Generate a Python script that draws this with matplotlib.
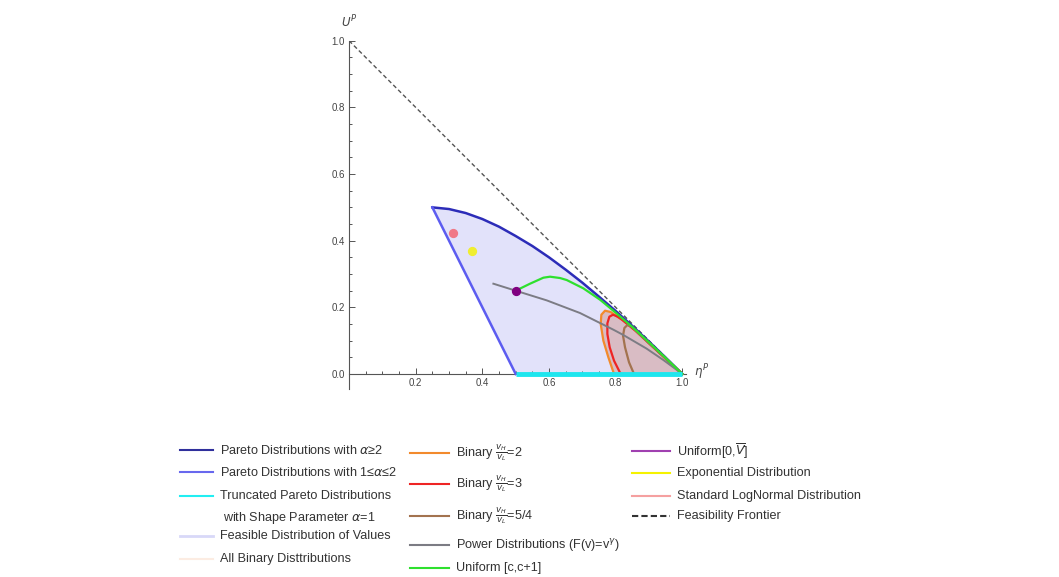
import matplotlib
matplotlib.use("Agg")
import matplotlib.pyplot as plt
from matplotlib.lines import Line2D
import numpy as np

plt.rcParams["font.family"] = ["Liberation Sans", "DejaVu Sans"]
plt.rcParams["mathtext.fontset"] = "dejavusans"

# Pareto alpha >= 2 (upper boundary of feasible region)
pareto_hi_x = [0.25, 0.30, 0.35, 0.40, 0.45, 0.50, 0.55, 0.60, 0.65, 0.70, 0.75, 0.80, 0.85, 0.90, 0.95, 1.00]
pareto_hi_y = [0.500, 0.495, 0.483, 0.465, 0.442, 0.414, 0.384, 0.350, 0.313, 0.274, 0.232, 0.189, 0.144, 0.097, 0.049, 0.0]

# Pareto 1 <= alpha <= 2 (left boundary)
pareto_lo_x = [0.25, 0.375, 0.50]
pareto_lo_y = [0.50, 0.25, 0.0]

# truncated Pareto, alpha = 1 (bottom boundary)
trunc_x = [0.50, 1.00]
trunc_y = [0.0, 0.0]

# binary distributions, vH/vL = 2, 3, 5/4
bin2_x = [0.795, 0.778, 0.763, 0.755, 0.757, 0.768, 0.785, 0.808, 0.82, 0.86, 0.90, 0.95, 1.00]
bin2_y = [0.0, 0.050, 0.100, 0.150, 0.178, 0.190, 0.186, 0.170, 0.163, 0.130, 0.093, 0.046, 0.0]
bin3_x = [0.815, 0.795, 0.782, 0.775, 0.775, 0.781, 0.792, 0.806, 0.82, 0.86, 0.90, 0.95, 1.00]
bin3_y = [0.0, 0.040, 0.080, 0.120, 0.152, 0.172, 0.178, 0.172, 0.162, 0.129, 0.092, 0.046, 0.0]
bin54_x = [0.855, 0.840, 0.828, 0.822, 0.826, 0.835, 0.848, 0.87, 0.90, 0.95, 1.00]
bin54_y = [0.0, 0.035, 0.080, 0.115, 0.138, 0.147, 0.142, 0.121, 0.092, 0.046, 0.0]

# power distributions F(v)=v^gamma
power_x = [0.433, 0.50, 0.593, 0.693, 0.793, 0.823, 0.893, 0.943, 1.00]
power_y = [0.271, 0.250, 0.221, 0.183, 0.133, 0.117, 0.076, 0.042, 0.0]

# uniform [c, c+1]
unif_x = [0.50, 0.543, 0.583, 0.603, 0.633, 0.653, 0.703, 0.753, 0.80, 0.85, 0.90, 0.95, 1.00]
unif_y = [0.250, 0.271, 0.289, 0.292, 0.288, 0.282, 0.257, 0.223, 0.184, 0.141, 0.095, 0.048, 0.0]

# single distributions (points)
uniform0_pt = (0.50, 0.25)
expo_pt = (0.368, 0.369)
lognorm_pt = (0.313, 0.422)

# feasibility frontier
frontier_x = [0.0, 1.0]
frontier_y = [1.0, 0.0]

fig = plt.figure(figsize=(10.59, 5.77), dpi=100)
ax = fig.add_axes([0.3296, 0.3258, 0.3179, 0.6036])
ax.set_xlim(0, 1.01)
ax.set_ylim(-0.045, 1.0)

c_dark = "#2c2cb8"
c_light = "#5c5cf0"
c_cyan = "#1ee6ee"
c_orange = "#f28a2c"
c_red = "#ee2424"
c_brown = "#a3734f"
c_gray = "#7c7c84"
c_green = "#2ee02e"

# feasible region fill
reg_x = pareto_lo_x[::-1] + pareto_hi_x[1:] + trunc_x[::-1]
reg_y = pareto_lo_y[::-1] + pareto_hi_y[1:] + trunc_y[::-1]
ax.fill(reg_x, reg_y, color="#e2e2fa", lw=0, zorder=1)

# all binary distributions fill
ax.fill(bin2_x + [bin2_x[0]], bin2_y + [0.0], color="#d9bcc4", lw=0, zorder=2)

ax.plot(frontier_x, frontier_y, color="#555555", lw=1.0, ls=(0, (3, 2)), zorder=3)
ax.plot(pareto_hi_x, pareto_hi_y, color=c_dark, lw=1.8, zorder=4)
ax.plot(pareto_lo_x, pareto_lo_y, color=c_light, lw=1.8, zorder=4)
ax.plot(bin2_x, bin2_y, color=c_orange, lw=1.6, zorder=5)
ax.plot(bin3_x, bin3_y, color=c_red, lw=1.6, zorder=5)
ax.plot(bin54_x, bin54_y, color=c_brown, lw=1.6, zorder=5)
ax.plot(power_x, power_y, color=c_gray, lw=1.4, zorder=6)
ax.plot(unif_x, unif_y, color=c_green, lw=1.6, zorder=6)
ax.plot(trunc_x, trunc_y, color=c_cyan, lw=3.5, zorder=7, clip_on=False, solid_capstyle="butt")

ax.scatter(*uniform0_pt, s=32, color="#800080", zorder=8)
ax.scatter(*expo_pt, s=32, color="#f0ee30", zorder=8)
ax.scatter(*lognorm_pt, s=32, color="#f07886", zorder=8)

# Mathematica-like axes
for s in ["top", "right"]:
    ax.spines[s].set_visible(False)
ax.spines["bottom"].set_position(("data", 0))
for s in ["left", "bottom"]:
    ax.spines[s].set_color("#555555")
    ax.spines[s].set_linewidth(0.8)
ax.set_xticks([0.2, 0.4, 0.6, 0.8, 1.0])
ax.set_yticks([0.0, 0.2, 0.4, 0.6, 0.8, 1.0])
ax.set_xticks(np.arange(0.05, 1.0, 0.05), minor=True)
ax.set_yticks(np.arange(0.05, 1.0, 0.05), minor=True)
ax.set_xticklabels(["0.2", "0.4", "0.6", "0.8", "1.0"])
ax.set_yticklabels(["0.0", "0.2", "0.4", "0.6", "0.8", "1.0"])
ax.tick_params(which="both", direction="in", color="#555555", width=0.7,
               labelsize=7, labelcolor="#444444", pad=3)
ax.tick_params(which="major", length=4)
ax.tick_params(which="minor", length=2.2)
ax.text(1.035, 0.005, r"$\eta^P$", fontsize=8.5, color="#444444", va="center", ha="left")
ax.text(0.0, 1.03, r"$U^P$", fontsize=8.5, color="#444444", va="bottom", ha="center")

# legend, three columns drawn by hand
W, H = 1059.0, 577.0
fs = 9.1
tc = "#333333"


def entry(x0, x1, y, color, text, lw=1.5, ls="-", tx=None):
    fig.lines.append(Line2D([x0 / W, x1 / W], [1 - y / H, 1 - y / H], color=color,
                            lw=lw, ls=ls, transform=fig.transFigure))
    fig.text((tx if tx else x1 + 7) / W, 1 - y / H, text, fontsize=fs, color=tc,
             va="center", ha="left")


entry(180, 213, 450, "#30309c", r"Pareto Distributions with $\alpha$≥2")
entry(180, 213, 472, "#6868ee", r"Pareto Distributions with 1≤$\alpha$≤2")
entry(180, 213, 496, "#22eef2", "Truncated Pareto Distributions")
fig.text(223 / W, 1 - 518 / H, r"with Shape Parameter $\alpha$=1", fontsize=fs, color=tc,
         va="center", ha="left")
entry(180, 213, 536, "#d8d8f8", "Feasible Distribution of Values", lw=2)
entry(180, 213, 559, "#fcece2", "All Binary Disttributions", lw=1.5)

entry(410, 449, 453, c_orange, r"Binary $\frac{v_H}{v_L}$=2", tx=456)
entry(410, 449, 484, c_red, r"Binary $\frac{v_H}{v_L}$=3", tx=456)
entry(410, 449, 516, c_brown, r"Binary $\frac{v_H}{v_L}$=5/4", tx=456)
entry(410, 449, 545, c_gray, r"Power Distributions (F(v)=v$^\gamma$)", tx=456)
entry(410, 449, 568, c_green, "Uniform [c,c+1]", tx=456)

entry(632, 670, 451, "#a040b0", r"Uniform[0,$\overline{V}$]", tx=677)
entry(632, 670, 473, "#f5f200", "Exponential Distribution", tx=677)
entry(632, 670, 496, "#f5a0a0", "Standard LogNormal Distribution", tx=677)
entry(632, 670, 516, "#333333", "Feasibility Frontier", ls=(0, (3, 1.5)), tx=677)

fig.savefig("out.png", dpi=100)
